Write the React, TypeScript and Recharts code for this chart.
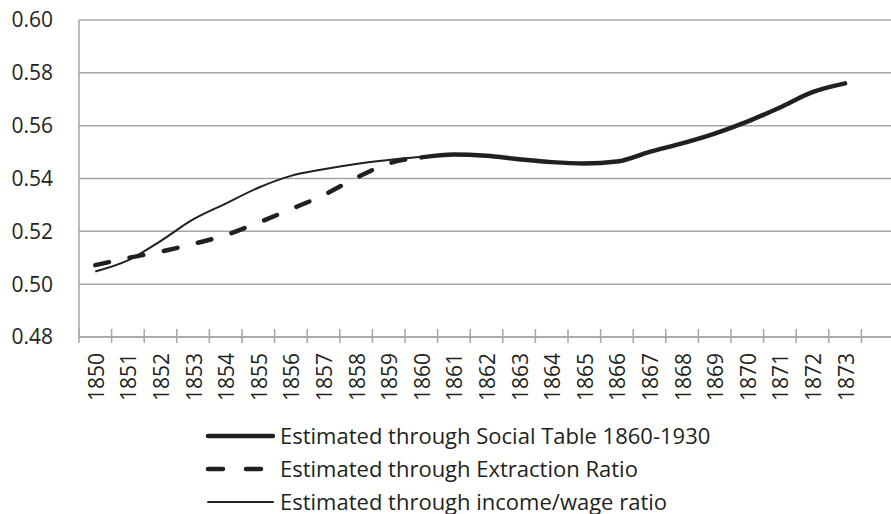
import React from 'react';
import { LineChart, Line, XAxis, YAxis, CartesianGrid, Legend } from 'recharts';

// last category is left blank, the axis runs one band past 1873
const years = [
  '1850', '1851', '1852', '1853', '1854', '1855', '1856', '1857', '1858', '1859', '1860', '1861',
  '1862', '1863', '1864', '1865', '1866', '1867', '1868', '1869', '1870', '1871', '1872', '1873', '',
];

const socialTable = [
  null, null, null, null, null, null, null, null, null, null,
  0.548, 0.5491, 0.5486, 0.5473, 0.5462, 0.5457, 0.5464, 0.5501, 0.5533, 0.557, 0.5615, 0.5669, 0.5727, 0.576,
  null,
];

const extractionRatio = [
  0.5072, 0.5099, 0.5123, 0.5152, 0.5186, 0.5233, 0.5284, 0.5337, 0.5402, 0.5457, 0.548,
  null, null, null, null, null, null, null, null, null, null, null, null, null, null,
];

const incomeWage = [
  0.5048, 0.509, 0.5163, 0.5245, 0.5305, 0.5365, 0.541, 0.5435, 0.5455, 0.547, 0.5482,
  null, null, null, null, null, null, null, null, null, null, null, null, null, null,
];

const yTicks = [0.48, 0.5, 0.52, 0.54, 0.56, 0.58, 0.6];

const legendItems = [
  { label: 'Estimated through Social Table 1860-1930', width: 4.5, dash: undefined },
  { label: 'Estimated through Extraction Ratio', width: 4.5, dash: '15 23' },
  { label: 'Estimated through income/wage ratio', width: 2, dash: undefined },
];

const data = years.map((year, i) => ({
  year,
  social: socialTable[i],
  extraction: extractionRatio[i],
  income: incomeWage[i],
}));

const INK = '#231f20';
const GRID = '#a6a6a6';
const FONT = '"Open Sans", sans-serif';
const CHART_W = 896;
const CHART_H = 514;
const PLOT_LEFT = 79;
const MARGIN_RIGHT = 2;
const LEGEND_H = 90;
const BAND = (CHART_W - MARGIN_RIGHT - PLOT_LEFT) / years.length;

const YearTick = (props: any) => {
  const { x, y, payload } = props;
  const edge = x - BAND / 2;
  return (
    <g>
      <line x1={edge} x2={edge} y1={y - 8} y2={y + 6} stroke={GRID} strokeWidth={1.5} />
      {payload.value && (
        <text
          transform={`translate(${x + 0.5}, ${y + 16}) rotate(-90)`}
          textAnchor="end"
          dominantBaseline="central"
          fill={INK}
          fontSize={21}
          fontFamily={FONT}
        >
          {payload.value}
        </text>
      )}
    </g>
  );
};

const renderLegend = () => (
  <div style={{ paddingLeft: 205, fontFamily: FONT, fontSize: 22, color: INK }}>
    {legendItems.map((item) => (
      <div key={item.label} style={{ display: 'flex', alignItems: 'center', height: 33, whiteSpace: 'nowrap' }}>
        <svg width={70} height={10} style={{ marginRight: 5, flex: 'none' }}>
          <line
            x1={3}
            x2={68}
            y1={5}
            y2={5}
            stroke={INK}
            strokeWidth={item.width}
            strokeDasharray={item.dash}
            strokeLinecap="round"
          />
        </svg>
        <span style={{ lineHeight: '33px' }}>{item.label}</span>
      </div>
    ))}
  </div>
);

export default function App() {
  return (
    <div style={{ width: 891, height: 514, overflow: 'hidden', background: '#fff' }}>
      <style>{'body{margin:0}'}</style>
      <LineChart
        width={CHART_W}
        height={CHART_H}
        data={data}
        margin={{ top: 20, right: MARGIN_RIGHT, left: 0, bottom: 0 }}
      >
        <CartesianGrid vertical={false} stroke={GRID} strokeWidth={1.5} />
        <XAxis
          dataKey="year"
          interval={0}
          height={CHART_H - 337 - LEGEND_H}
          padding={{ left: BAND / 2, right: BAND / 2 }}
          tickLine={false}
          tickSize={0}
          tickMargin={0}
          axisLine={{ stroke: GRID, strokeWidth: 1.5 }}
          tick={<YearTick />}
        />
        <YAxis
          width={PLOT_LEFT}
          domain={[0.48, 0.6]}
          ticks={yTicks}
          tickFormatter={(v: number) => v.toFixed(2)}
          tickLine={false}
          tickSize={0}
          tickMargin={26}
          axisLine={{ stroke: GRID, strokeWidth: 1.5 }}
          tick={{ fill: INK, fontSize: 21, fontFamily: FONT }}
        />
        <Legend
          verticalAlign="bottom"
          content={renderLegend}
          wrapperStyle={{ left: 0, width: 891, height: LEGEND_H, top: 419 }}
        />
        <Line
          type="monotone"
          dataKey="income"
          stroke={INK}
          strokeWidth={2}
          dot={false}
          isAnimationActive={false}
        />
        <Line
          type="monotone"
          dataKey="extraction"
          stroke={INK}
          strokeWidth={4.5}
          strokeDasharray="14 21"
          strokeLinecap="round"
          dot={false}
          isAnimationActive={false}
        />
        <Line
          type="monotone"
          dataKey="social"
          stroke={INK}
          strokeWidth={4.5}
          strokeLinecap="round"
          dot={false}
          isAnimationActive={false}
        />
      </LineChart>
    </div>
  );
}
